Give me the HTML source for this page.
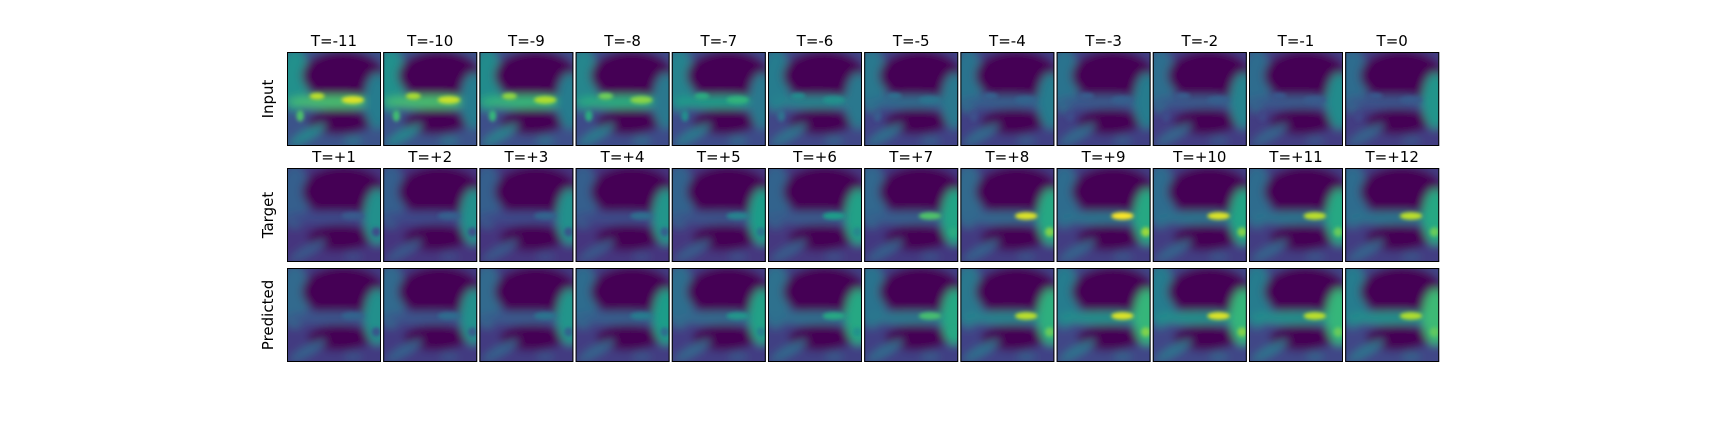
<!DOCTYPE html>
<html><head><meta charset="utf-8"><style>
html,body{margin:0;padding:0;background:#fff;}
#fig{position:relative;width:1728px;height:432px;overflow:hidden;font-family:"Liberation Sans","DejaVu Sans",sans-serif;}
</style></head><body>
<div id="fig">
<svg id="svg" width="1728" height="432" xmlns="http://www.w3.org/2000/svg"></svg>
</div>
<script>
const inputLabels=["T=-11","T=-10","T=-9","T=-8","T=-7","T=-6","T=-5","T=-4","T=-3","T=-2","T=-1","T=0"];
const futureLabels=["T=+1","T=+2","T=+3","T=+4","T=+5","T=+6","T=+7","T=+8","T=+9","T=+10","T=+11","T=+12"];
const rowNames=["Input","Target","Predicted"];
const leftVals=[[0.5,0.5,0.48,0.46,0.45,0.42,0.4,0.38,0.38,0.36,0.35,0.35],
[0.3,0.3,0.3,0.3,0.32,0.32,0.33,0.34,0.35,0.35,0.35,0.35],
[0.34,0.34,0.34,0.35,0.36,0.37,0.38,0.4,0.42,0.42,0.42,0.42]];
const midVals=[[0.7,0.7,0.66,0.62,0.55,0.45,0.35,0.3,0.28,0.28,0.28,0.26],
[0.22,0.22,0.22,0.23,0.25,0.28,0.3,0.33,0.38,0.38,0.38,0.38],
[0.26,0.26,0.28,0.3,0.34,0.36,0.4,0.45,0.5,0.5,0.5,0.5]];
const yellowVals=[[0.95,0.92,0.88,0.82,0.65,0.5,0.38,0.32,0.3,0.3,0.28,0.28],
[0.28,0.3,0.32,0.36,0.45,0.55,0.72,0.95,1.0,0.95,0.9,0.9],
[0.32,0.35,0.38,0.42,0.52,0.6,0.7,0.9,0.95,0.95,0.9,0.88]];
const rightVals=[[0.42,0.42,0.42,0.4,0.4,0.4,0.4,0.42,0.42,0.45,0.48,0.52],
[0.5,0.5,0.5,0.52,0.55,0.57,0.58,0.6,0.6,0.58,0.6,0.6],
[0.5,0.5,0.52,0.55,0.57,0.6,0.6,0.63,0.66,0.66,0.66,0.68]];

const stops=[[68,1,84],[72,40,120],[62,74,137],[49,104,142],[38,130,142],[31,158,137],[53,183,121],[110,206,88],[181,222,43],[253,231,37]];
function viridis(t){t=Math.max(0,Math.min(1,t))*(stops.length-1);const i=Math.min(stops.length-2,Math.floor(t)),f=t-i;
const a=stops[i],b=stops[i+1];return `rgb(${a.map((v,k)=>Math.round(v+(b[k]-v)*f)).join(',')})`;}
const NS="http://www.w3.org/2000/svg";
const svg=document.getElementById('svg');
function mk(tag,attrs,parent){const e=document.createElementNS(NS,tag);for(const k in attrs)e.setAttribute(k,attrs[k]);parent.appendChild(e);return e;}
const defs=mk('defs',{},svg);
const flt=mk('filter',{id:'bl',x:'-20%',y:'-20%',width:'140%',height:'140%'},defs);
mk('feGaussianBlur',{stdDeviation:'4.5'},flt);
const flt2=mk('filter',{id:'bl2',x:'-20%',y:'-20%',width:'140%',height:'140%'},defs);
mk('feGaussianBlur',{stdDeviation:'2'},flt2);
const x0=287,pitch=96.2,W=94,H=94;
const rowY=[52,168,268];
function xPos(i){return x0+i*pitch;}
function yPos(r){return rowY[r];}
for(let r=0;r<3;r++){
  for(let i=0;i<12;i++){
    const X=xPos(i),Y=yPos(r),L=leftVals[r][i],M=midVals[r][i],Yl=yellowVals[r][i],R=rightVals[r][i];
    const g=mk('g',{},svg);
    
    
    const cp=mk('clipPath',{id:'c'+r+'_'+i},defs);
    mk('rect',{x:X,y:Y,width:W,height:H},cp);
    const inner=mk('g',{'clip-path':`url(#c${r}_${i})`},g);
    mk('rect',{x:X,y:Y,width:W,height:H,fill:viridis(L*0.5)},inner);
    const s=mk('g',{transform:`translate(${X},${Y}) scale(${W/100})`,filter:'url(#bl)'},inner);
    mk('rect',{x:-10,y:-10,width:120,height:120,fill:viridis(L*0.5)},s);
    mk('ellipse',{cx:8,cy:30,rx:16,ry:34,fill:viridis(L)},s);
    mk('ellipse',{cx:60,cy:25,rx:44,ry:27,fill:'#440154'},s);
    mk('ellipse',{cx:52,cy:53,rx:52,ry:7,fill:viridis(M)},s);
    mk('ellipse',{cx:56,cy:74,rx:34,ry:14,fill:'#440154'},s);
    mk('ellipse',{cx:22,cy:88,rx:22,ry:5,transform:'rotate(-30 22 88)',fill:viridis(L*0.95)},s);
    mk('ellipse',{cx:70,cy:94,rx:10,ry:4,fill:viridis(L*0.8)},s);
    mk('ellipse',{cx:96,cy:52,rx:14,ry:30,fill:viridis(R)},s);
    const s2=mk('g',{transform:`translate(${X},${Y}) scale(${W/100})`,filter:'url(#bl2)'},inner);
    mk('ellipse',{cx:70,cy:51,rx:12,ry:4,fill:viridis(Yl)},s2);
    if(r===0){mk('ellipse',{cx:32,cy:47,rx:8,ry:3.5,fill:viridis(Yl*0.95)},s2);
      mk('ellipse',{cx:14,cy:68,rx:4,ry:6,fill:viridis(Yl*0.75)},s2);}
    else{mk('ellipse',{cx:95,cy:68,rx:5,ry:5,fill:viridis(Yl*0.85)},s2);}
    mk('rect',{x:X+0.5,y:Y+0.5,width:W-1,height:H-1,fill:'none',stroke:'#000','stroke-width':1},g);
  }
}
function title(txt,x,y,name){const t=mk('text',{x:x,y:y,'text-anchor':'middle','font-size':'15',fill:'#000','font-family':'"DejaVu Sans","Liberation Sans",sans-serif'},svg);t.textContent=txt;

}
for(let i=0;i<12;i++){title(inputLabels[i],xPos(i)+W/2,46,'title-input-'+i);title(futureLabels[i],xPos(i)+W/2,162,'title-future-'+i);}
for(let r=0;r<3;r++){const cy=yPos(r)+H/2;const t=mk('text',{x:0,y:0,transform:`translate(273 ${cy}) rotate(-90)`,'text-anchor':'middle','font-size':'15',fill:'#000','font-family':'"DejaVu Sans","Liberation Sans",sans-serif'},svg);t.textContent=rowNames[r];

}
</script>
</body></html>
